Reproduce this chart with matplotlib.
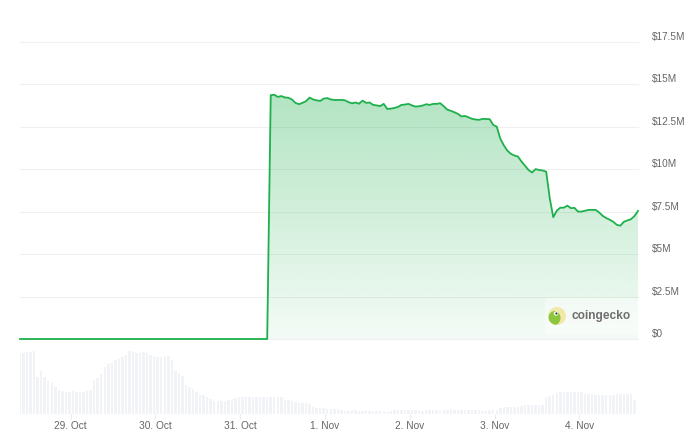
import numpy as np
import pandas as pd
import matplotlib
matplotlib.use('Agg')
import matplotlib.pyplot as plt
import matplotlib.dates as mdates
import matplotlib.transforms as mtransforms
from matplotlib.patches import Circle, Ellipse, FancyBboxPatch

# ---------------- data ----------------
start_time = '2024-10-28 09:38'

# market cap in millions USD (hourly)
prices_m = [0.0] * 71 + [
    14.35, 14.38, 14.25, 14.30, 14.22, 14.20, 14.10, 13.90, 13.82, 13.90,
    14.00, 14.21, 14.10, 14.05, 14.01, 14.15, 14.18, 14.10, 14.07, 14.07,
    14.07, 14.05, 13.95, 13.87, 13.92, 13.85, 14.03, 13.90, 13.92, 13.78,
    13.75, 13.71, 13.84, 13.54, 13.56, 13.60, 13.66, 13.78, 13.80, 13.84,
    13.75, 13.68, 13.70, 13.74, 13.82, 13.78, 13.84, 13.84, 13.88, 13.70,
    13.50, 13.43, 13.35, 13.25, 13.10, 13.13, 13.05, 12.96, 12.92, 12.90,
    12.96, 12.95, 12.94, 12.60, 12.50, 11.80, 11.40, 11.09, 10.90, 10.80,
    10.74, 10.45, 10.20, 9.95, 9.80, 10.00, 9.95, 9.92, 9.85, 8.30,
    7.17, 7.55, 7.73, 7.73, 7.85, 7.70, 7.72, 7.50, 7.50, 7.55,
    7.60, 7.60, 7.60, 7.45, 7.25, 7.12, 7.02, 6.90, 6.72, 6.67,
    6.90, 6.98, 7.05, 7.24, 7.54,
]

# relative volume (hourly)
volumes = [
    180, 184, 185, 187, 189, 110, 130, 110, 98, 92,
    80, 72, 69, 67, 67, 68, 67, 66, 66, 68,
    72, 102, 107, 119, 142, 149, 154, 162, 165, 172,
    177, 189, 185, 184, 184, 187, 182, 178, 175, 172,
    172, 174, 174, 162, 130, 124, 114, 87, 82, 74,
    67, 56, 56, 52, 45, 40, 39, 39, 40, 41,
    44, 47, 50, 50, 50, 50, 50, 50, 50, 52,
    52, 50, 50, 50, 50, 42, 41, 39, 37, 33,
    33, 33, 30, 22, 19, 17, 17, 14, 14, 14,
    15, 12, 10, 10, 12, 13, 10, 10, 12, 10,
    8, 8, 8, 9, 7, 9, 12, 13, 12, 12,
    12, 11, 11, 12, 10, 12, 11, 12, 11, 10,
    12, 13, 14, 13, 12, 12, 12, 13, 13, 12,
    12, 8, 9, 12, 12, 13, 17, 20, 20, 20,
    20, 22, 25, 26, 26, 26, 27, 27, 27, 50,
    54, 58, 62, 65, 65, 65, 65, 65, 65, 65,
    59, 59, 59, 58, 56, 56, 56, 58, 58, 60,
    60, 60, 60, 60, 42,
]

y_ticks = [0, 2.5, 5, 7.5, 10, 12.5, 15, 17.5]
y_tick_labels = ['$0', '$2.5M', '$5M', '$7.5M', '$10M', '$12.5M', '$15M', '$17.5M']
x_tick_dates = ['2024-10-29', '2024-10-30', '2024-10-31', '2024-11-01',
                '2024-11-02', '2024-11-03', '2024-11-04']
x_tick_labels = ['29. Oct', '30. Oct', '31. Oct', '1. Nov', '2. Nov', '3. Nov', '4. Nov']

# ---------------- figure ----------------
W, H = 700, 442
fig = plt.figure(figsize=(W / 100, H / 100), dpi=100)
fig.patch.set_facecolor('white')

def fx(px):
    return px / W

def fy(py):
    return 1 - py / H

times = pd.date_range(start_time, periods=len(prices_m), freq='h')
vol_times = times[:len(volumes)]
x0 = mdates.date2num(times[0])
x1 = mdates.date2num(times[-1])

LINE = '#1eb04c'
TXT = '#666666'
FONT = 'Liberation Sans'

# main axes
ax = fig.add_axes([fx(20), fy(339), fx(638) - fx(20), fy(41.7) - fy(339)])
ax.set_facecolor('none')
for s in ax.spines.values():
    s.set_visible(False)
ax.set_xticks([])
ax.set_yticks([])

for v in y_ticks:
    ax.axhline(v, color='#f0f0f0', lw=0.8, zorder=0, clip_on=False)

# gradient fill
poly = ax.fill_between(times, prices_m, 0, color='none', lw=0)
ymax = max(prices_m)
n = 256
grad = np.zeros((n, 1, 4))
base = matplotlib.colors.to_rgb(LINE)
grad[:, 0, 0] = base[0]
grad[:, 0, 1] = base[1]
grad[:, 0, 2] = base[2]
grad[:, 0, 3] = np.linspace(0.05, 0.34, n)
im = ax.imshow(grad, extent=[x0, x1, 0, ymax], aspect='auto', origin='lower', zorder=1,
               interpolation='bilinear')
im.set_clip_path(poly.get_paths()[0], transform=ax.transData)

ax.plot(times, prices_m, color=LINE, lw=1.3, zorder=3, clip_on=False,
        solid_joinstyle='round')

ax.set_xlim(x0, x1)
ax.set_ylim(0, 17.5)

for v, lab in zip(y_ticks, y_tick_labels):
    ax.annotate(lab, xy=(1, v), xycoords=('axes fraction', 'data'),
                xytext=(10.1, 3.4), textcoords='offset points',
                ha='left', va='center', fontsize=7.2, color=TXT, family=FONT,
                annotation_clip=False)

# volume axes
vax = fig.add_axes([fx(20), fy(414), fx(638) - fx(20), fy(351) - fy(414)])
vax.set_facecolor('none')
for s in vax.spines.values():
    s.set_visible(False)
vax.bar(vol_times, volumes, width=0.7 / 24, color='#f1f3f6', lw=0)
vax.set_xlim(x0, x1)
vax.set_ylim(0, 189)
vax.set_yticks([])
vax.set_xticks(pd.to_datetime(x_tick_dates))
vax.set_xticklabels(x_tick_labels)
vax.tick_params(axis='x', length=3.6, width=0.8, color='#e6eaf1', pad=1.6,
                labelsize=7.3, labelcolor=TXT)
for lab in vax.get_xticklabels():
    lab.set_family(FONT)

# watermark
ident = mtransforms.IdentityTransform()
box = FancyBboxPatch((545, H - 334), 93, 36, boxstyle='round,pad=0,rounding_size=4',
                     transform=ident, fc='white', ec='none', alpha=0.45, zorder=4)
fig.add_artist(box)
cx, cy = 557, H - 316
circ = Circle((cx, cy), 9, transform=ident, fc='#f2e9a8', ec='none', zorder=5)
fig.add_artist(circ)
head = Ellipse((cx - 2.5, cy - 2), 12, 14, transform=ident, fc='#8cc63f', ec='none', zorder=6)
fig.add_artist(head)
head.set_clip_path(circ)
eye = Circle((cx - 1, cy + 2.5), 2.2, transform=ident, fc='white', ec='none', zorder=7)
fig.add_artist(eye)
pupil = Circle((cx - 0.6, cy + 2.5), 1.1, transform=ident, fc='#3a3a3a', ec='none', zorder=8)
fig.add_artist(pupil)
fig.text(fx(572), fy(316.5), 'coingecko', fontsize=8.6, fontweight='bold', color='#6e6e6e',
         family=FONT, va='center', ha='left', zorder=9)

fig.savefig('out.png', dpi=100, facecolor='white')
